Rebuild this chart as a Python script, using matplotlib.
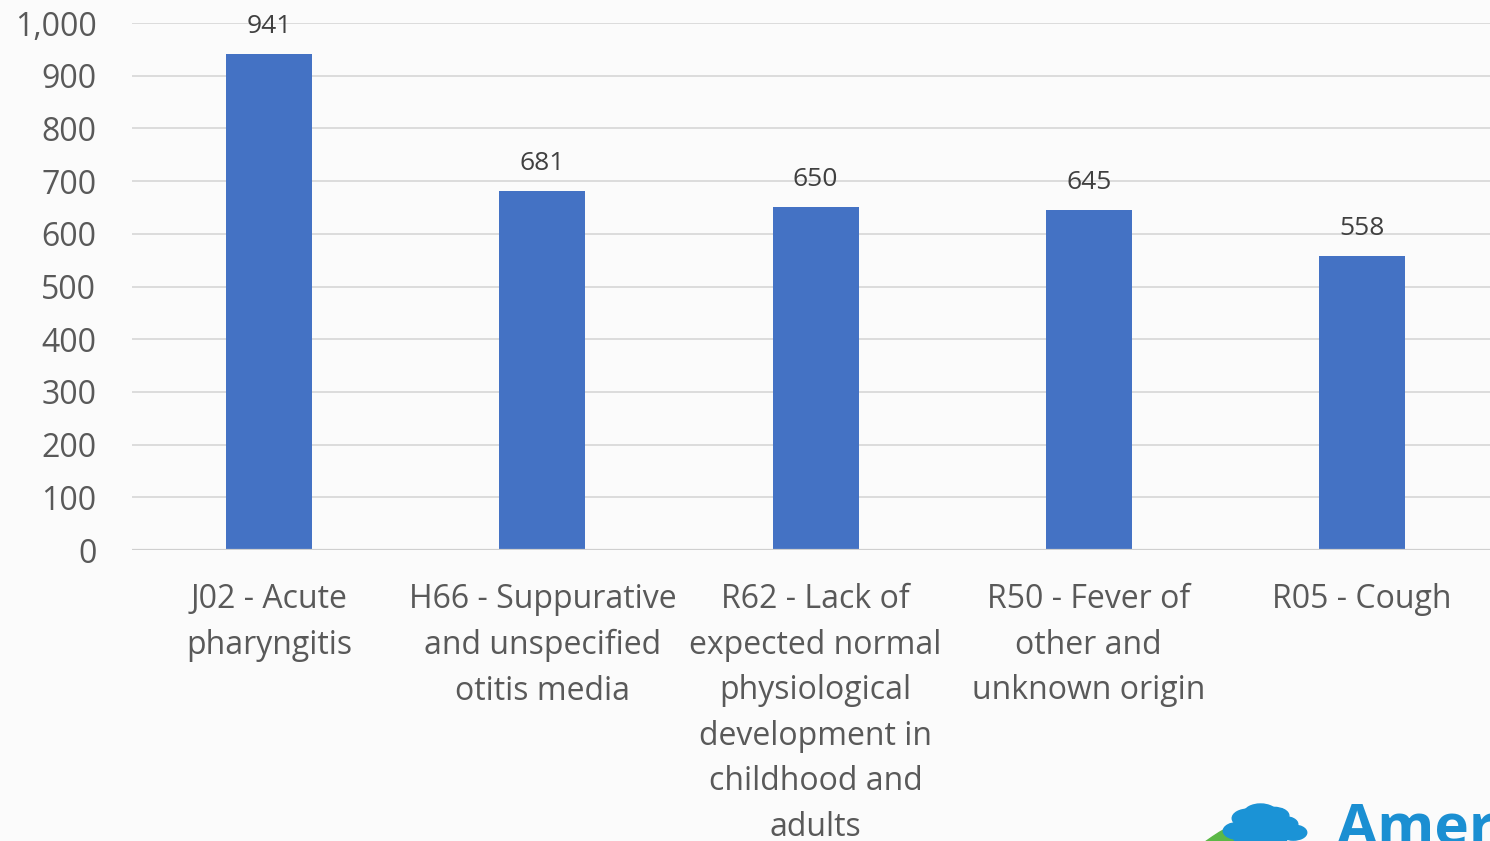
import matplotlib.pyplot as plt
from matplotlib.patches import Circle, Ellipse

# Top diagnoses by visit count
categories = [
    "J02 - Acute\npharyngitis",
    "H66 - Suppurative\nand unspecified\notitis media",
    "R62 - Lack of\nexpected normal\nphysiological\ndevelopment in\nchildhood and\nadults",
    "R50 - Fever of\nother and\nunknown origin",
    "R05 - Cough",
]
counts = [941, 681, 650, 645, 558]
y_ticks = [0, 100, 200, 300, 400, 500, 600, 700, 800, 900, 1000]

BAR_COLOR = "#4472c4"
TEXT_COLOR = "#595959"
GRID_COLOR = "#d9d9d9"
BG = "#fbfbfb"

plt.rcParams["font.family"] = ["Open Sans", "DejaVu Sans"]

fig = plt.figure(figsize=(14.9, 8.41), dpi=100, facecolor=BG)
# plot area runs a little past the right edge of the page
ax = fig.add_axes([0.0889, 0.346, 0.9169, 0.6266], facecolor=BG)

x = range(len(categories))
bars = ax.bar(x, counts, width=0.315, color=BAR_COLOR, zorder=3)

for rect, val in zip(bars, counts):
    ax.annotate(f"{val:,}", (rect.get_x() + rect.get_width() / 2, val),
                xytext=(0, 11), textcoords="offset points",
                ha="center", va="bottom", fontsize=19, color="#404040")

ax.set_xlim(-0.5, len(categories) - 0.5)
ax.set_ylim(0, 1000)
ax.set_yticks(y_ticks)
ax.set_yticklabels([f"{t:,}" for t in y_ticks], fontsize=23, color=TEXT_COLOR)
ax.set_xticks(list(x))
ax.set_xticklabels(categories, fontsize=23, color=TEXT_COLOR, linespacing=1.5,
                   va="top")

ax.tick_params(axis="y", length=0, pad=26)
ax.tick_params(axis="x", length=0, pad=24)
ax.grid(axis="y", color=GRID_COLOR, linewidth=1.3, zorder=0)
for side in ["top", "right", "left", "bottom"]:
    ax.spines[side].set_visible(False)
ax.axhline(0, color="#cfcfcf", linewidth=1.6, zorder=4)

# logo in the lower-right corner, cut off by the page edge
fig.patches.append(Ellipse((0.820, 0.0), 0.016, 0.07, angle=-40,
                           transform=fig.transFigure, color="#5bb846", zorder=5))
for cx, cy, r in [(0.831, 0.012, 0.010), (0.838, 0.027, 0.011), (0.846, 0.033, 0.011),
                  (0.855, 0.030, 0.010), (0.862, 0.020, 0.009), (0.868, 0.010, 0.009),
                  (0.846, 0.005, 0.018)]:
    fig.patches.append(Circle((cx, cy), r, transform=fig.transFigure,
                              color="#1b93d6", zorder=6))
fig.text(0.897, -0.004, "American", fontsize=42, fontweight="bold",
         family=["Liberation Sans Narrow", "Open Sans"],
         color="#1b8fd2", ha="left", va="baseline")

fig.savefig("out.png", dpi=100, facecolor=BG)
